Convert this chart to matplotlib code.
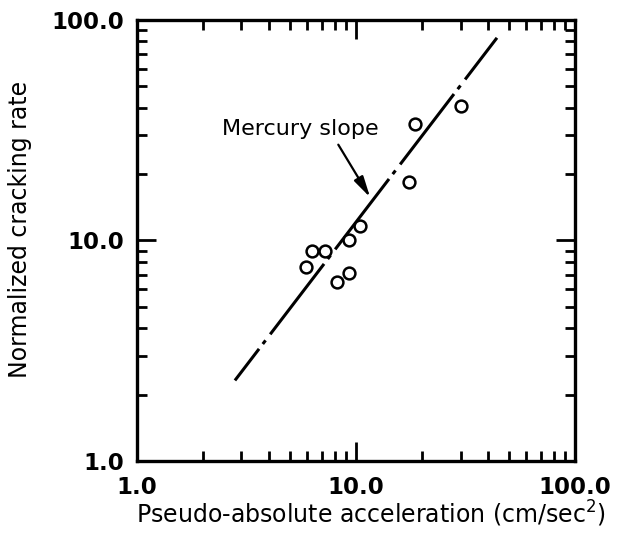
import matplotlib
matplotlib.use("Agg")
import matplotlib.pyplot as plt
from matplotlib.ticker import LogLocator, FixedLocator, NullFormatter

# Data
accel = [5.9, 6.3, 7.2, 8.2, 9.3, 9.3, 10.4, 17.4, 18.6, 30.0]
rate = [7.6, 9.0, 9.0, 6.5, 7.1, 10.0, 11.6, 18.4, 33.7, 40.8]

line_x = [2.8, 44.0]
line_y = [2.32, 83.0]

x_ticks = [1.0, 10.0, 100.0]
y_ticks = [1.0, 10.0, 100.0]
tick_labels = ["1.0", "10.0", "100.0"]

fig = plt.figure(figsize=(6.21, 5.37), dpi=100)
ax = fig.add_axes([0.2206, 0.1415, 0.7054, 0.8213])
ax.set_xscale("log")
ax.set_yscale("log")
ax.set_xlim(1, 100)
ax.set_ylim(1, 100)

ax.plot(line_x, line_y, color="black", lw=2.2,
        linestyle=(16, (29, 2, 1.5, 2.5)), solid_capstyle="butt",
        dash_capstyle="butt")
ax.plot(accel, rate, linestyle="none", marker="o", markersize=8.5,
        markerfacecolor="white", markeredgecolor="black", markeredgewidth=1.8)

ax.text(5.55, 32.0, "Mercury slope", ha="center", va="center", fontsize=16)
ax.annotate("", xy=(11.6, 15.7), xytext=(8.3, 27.2),
            arrowprops=dict(arrowstyle="-|>,head_length=0.9,head_width=0.22",
                            color="black", lw=1.6, mutation_scale=14,
                            shrinkA=0, shrinkB=0))

ax.xaxis.set_major_locator(FixedLocator(x_ticks))
ax.yaxis.set_major_locator(FixedLocator(y_ticks))
ax.set_xticklabels(tick_labels)
ax.set_yticklabels(tick_labels)
ax.xaxis.set_minor_locator(LogLocator(base=10, subs=range(2, 10)))
ax.yaxis.set_minor_locator(LogLocator(base=10, subs=range(2, 10)))
ax.xaxis.set_minor_formatter(NullFormatter())
ax.yaxis.set_minor_formatter(NullFormatter())

ax.tick_params(which="both", direction="in", top=True, right=True, width=2, colors="black")
ax.tick_params(which="major", length=14, labelsize=16.5)
ax.tick_params(axis="x", which="major", pad=10.5)
ax.tick_params(axis="y", which="major", pad=9.5)
ax.tick_params(which="minor", length=7.5)
for lab in ax.get_xticklabels() + ax.get_yticklabels():
    lab.set_fontweight("bold")

for sp in ax.spines.values():
    sp.set_linewidth(2.4)

ax.set_xlabel("Pseudo-absolute acceleration (cm/sec$^\\mathregular{2}$)", fontsize=17, labelpad=3)
ax.xaxis.set_label_coords(0.535, -0.085)
ax.xaxis.label.set_va("top")
ax.set_ylabel("Normalized cracking rate", fontsize=17)
ax.yaxis.set_label_coords(-0.24, 0.525)

fig.savefig("out.png", dpi=100)
